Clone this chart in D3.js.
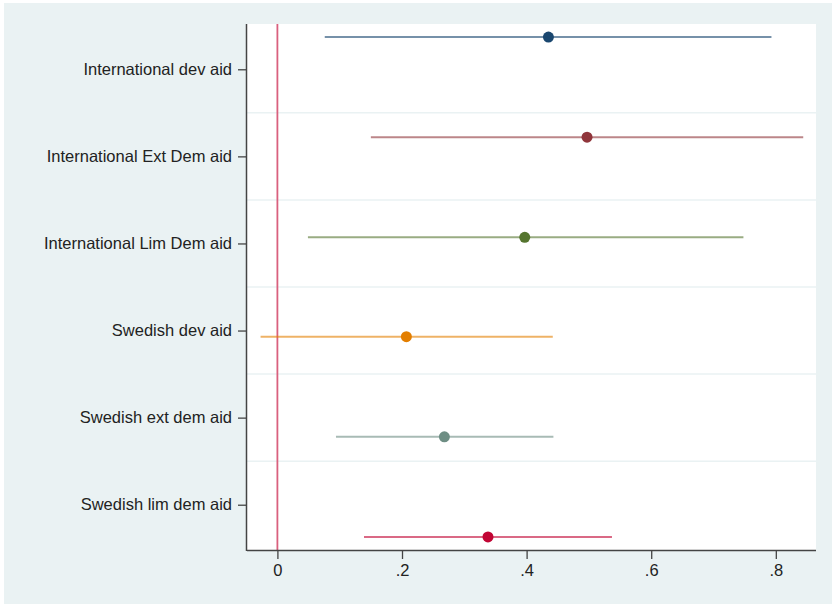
<!DOCTYPE html>
<html>
<head>
<meta charset="utf-8">
<script src="https://cdn.jsdelivr.net/npm/d3@7"></script>
<style>
  html, body { margin: 0; padding: 0; background: #ffffff; }
  svg { display: block; }
  text { font-family: "Liberation Sans", Arial, sans-serif; }
</style>
</head>
<body>
<svg id="chart" width="832" height="604"></svg>
<script>
// ---- data ----
const categories = [
  "International dev aid",
  "International Ext Dem aid",
  "International Lim Dem aid",
  "Swedish dev aid",
  "Swedish ext dem aid",
  "Swedish lim dem aid"
];
const estimates = [0.435, 0.497, 0.397, 0.207, 0.268, 0.338];
const ciLower   = [0.076, 0.150, 0.049, -0.027, 0.094, 0.139];
const ciUpper   = [0.793, 0.844, 0.748, 0.442, 0.443, 0.537];
// model offsets (coefplot-style) relative to category position
const offsets   = [-0.37, -0.22, -0.07, 0.07, 0.22, 0.37];
const colors    = ["#1a476f", "#90353b", "#55752f", "#e37e00", "#6e8e84", "#c10534"];
const xTicks    = [0, 0.2, 0.4, 0.6, 0.8];
const xTickLabels = ["0", ".2", ".4", ".6", ".8"];

// ---- layout ----
const W = 832, H = 604;
const plot = { left: 247, top: 24, right: 816, bottom: 550 };
const fontSize = 16.5;

const svg = d3.select("#chart");

// outer graph region
svg.append("rect").attr("x", 4).attr("y", 3).attr("width", W - 4).attr("height", H - 3)
  .attr("fill", "#eaf2f3");
// plot region
svg.append("rect").attr("x", plot.left).attr("y", plot.top)
  .attr("width", plot.right - plot.left).attr("height", plot.bottom - plot.top)
  .attr("fill", "#ffffff");

const x = d3.scaleLinear().domain([-0.0488, 0.8645]).range([plot.left, plot.right]);
const y = d3.scaleLinear().domain([0.48, 6.52]).range([plot.top, plot.bottom]);

// gridlines between categories
const gridVals = d3.range(1.5, categories.length, 1);
svg.append("g").selectAll("line").data(gridVals).join("line")
  .attr("x1", plot.left).attr("x2", plot.right)
  .attr("y1", d => y(d)).attr("y2", d => y(d))
  .attr("stroke", "#eaf2f3").attr("stroke-width", 1.5);

// zero reference line
svg.append("line")
  .attr("x1", x(0)).attr("x2", x(0))
  .attr("y1", plot.top).attr("y2", plot.bottom)
  .attr("stroke", "#d9607e").attr("stroke-width", 1.8);

// axes
const xAxis = d3.axisBottom(x).tickValues(xTicks)
  .tickFormat((d, i) => xTickLabels[i]).tickSize(9).tickPadding(5).tickSizeOuter(0);
const gx = svg.append("g").attr("transform", `translate(0,${plot.bottom})`).call(xAxis);
gx.select(".domain").attr("stroke", "#444").attr("stroke-width", 1.5)
  .attr("d", `M${plot.left},0.5H${plot.right}`);
gx.selectAll(".tick line").attr("stroke", "#444").attr("stroke-width", 1.3);
gx.selectAll(".tick text").attr("font-size", fontSize).attr("fill", "#222")
  .attr("font-family", "'Liberation Sans', Arial, sans-serif");

const yAxis = d3.axisLeft(y).tickValues(d3.range(1, categories.length + 1))
  .tickFormat(d => categories[d - 1]).tickSize(9).tickPadding(6).tickSizeOuter(0);
const gy = svg.append("g").attr("transform", `translate(${plot.left},0)`).call(yAxis);
gy.select(".domain").attr("stroke", "#444").attr("stroke-width", 1.5)
  .attr("d", `M-0.5,${plot.top}V${plot.bottom + 1}`);
gy.selectAll(".tick line").attr("stroke", "#444").attr("stroke-width", 1.3);
gy.selectAll(".tick text").attr("font-size", fontSize).attr("fill", "#222")
  .attr("font-family", "'Liberation Sans', Arial, sans-serif");

// series
const rows = categories.map((c, i) => ({
  cat: c, pos: i + 1 + offsets[i], est: estimates[i], lo: ciLower[i], hi: ciUpper[i], col: colors[i]
}));

svg.append("g").selectAll("line").data(rows).join("line")
  .attr("x1", d => x(d.lo)).attr("x2", d => x(d.hi))
  .attr("y1", d => y(d.pos)).attr("y2", d => y(d.pos))
  .attr("stroke", d => d.col).attr("stroke-opacity", 0.6).attr("stroke-width", 2);

svg.append("g").selectAll("circle").data(rows).join("circle")
  .attr("cx", d => x(d.est)).attr("cy", d => y(d.pos)).attr("r", 5.5)
  .attr("fill", d => d.col);
</script>
</body>
</html>
